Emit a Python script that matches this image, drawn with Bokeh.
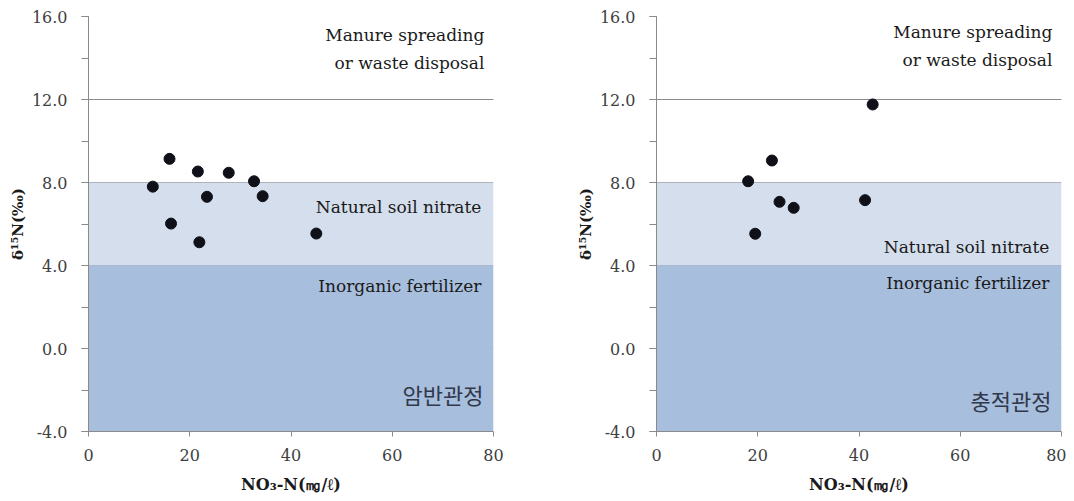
from bokeh.plotting import figure
from bokeh.layouts import row
from bokeh.models import Range1d, SingleIntervalTicker, FixedTicker, PrintfTickFormatter
from bokeh.core.properties import value
from bokeh.embed import file_html
from bokeh.resources import INLINE

# ---- data ----
rock_no3 = [12.7, 16.0, 21.6, 27.7, 32.7, 23.4, 34.4, 16.3, 21.9, 45.0]
rock_d15n = [7.8, 9.14, 8.53, 8.47, 8.06, 7.31, 7.34, 6.02, 5.12, 5.54]
allu_no3 = [42.7, 22.8, 18.1, 24.3, 27.1, 41.2, 19.5]
allu_d15n = [11.76, 9.06, 8.06, 7.07, 6.78, 7.15, 5.53]

band_bottom = [4.0, -4.0]
band_top = [8.0, 4.0]
band_colors = ["#D4DEEC", "#A7BEDD"]

x_ticks = [0, 20, 40, 60, 80]
y_grid = [0, 4, 8, 12]
panel_titles = ["암반관정", "충적관정"]

SERIF = "DejaVu Serif"


def make_panel(xs, ys, title, nat_y, inorg_y, man_y, title_y, left_border, right_border):
    p = figure(frame_width=405, frame_height=415, output_backend="svg",
               toolbar_location=None, x_range=Range1d(0, 80), y_range=Range1d(-4, 16),
               min_border_left=left_border, min_border_right=right_border,
               min_border_top=16, min_border_bottom=55)
    p.outline_line_color = None
    p.background_fill_color = "white"
    p.border_fill_color = "white"

    p.quad(left=0, right=80, bottom=band_bottom, top=band_top, fill_color=band_colors,
           line_color=None)

    p.xgrid.visible = False
    p.ygrid.ticker = FixedTicker(ticks=y_grid)
    p.ygrid.grid_line_color = "#8A8A8A"
    p.ygrid.grid_line_width = 1
    p.ygrid.level = "underlay"

    p.xaxis.ticker = FixedTicker(ticks=x_ticks)
    p.yaxis.ticker = SingleIntervalTicker(interval=4, num_minor_ticks=2)
    p.yaxis.formatter = PrintfTickFormatter(format="%.1f")
    for ax in (p.xaxis, p.yaxis):
        ax.axis_line_color = "#8A8A8A"
        ax.major_tick_line_color = "#8A8A8A"
        ax.minor_tick_line_color = "#8A8A8A"
        ax.major_tick_in = 0
        ax.minor_tick_in = 0
        ax.major_label_text_font = SERIF
        ax.major_label_text_font_size = "16px"
        ax.major_label_text_color = "#404040"
        ax.axis_label_text_font = SERIF
        ax.axis_label_text_font_style = "bold"
        ax.axis_label_text_color = "#1a1a1a"
    p.xaxis.major_tick_out = 5
    p.xaxis.minor_tick_line_color = None
    p.xaxis.major_label_standoff = 12
    p.xaxis.axis_label = "NO₃-N(㎎/ℓ)"
    p.xaxis.axis_label_text_font_size = "16px"
    p.xaxis.axis_label_standoff = 11
    p.yaxis.major_tick_out = 7
    p.yaxis.minor_tick_out = 7
    p.yaxis.major_label_standoff = 14
    p.yaxis.axis_label = "δ¹⁵N(‰)"
    p.yaxis.axis_label_text_font_size = "15px"
    p.yaxis.axis_label_standoff = 2

    p.scatter(xs, ys, size=11, fill_color="#0f1018", line_color="#0f1018")

    p.text(x=[78.2], y=[man_y], text=["Manure spreading\nor waste disposal"],
           text_align="right", text_baseline="middle", text_font=value(SERIF),
           text_font_size="17px", text_color="#1a1a1a", text_line_height=1.4)
    p.text(x=[77.6], y=[nat_y], text=["Natural soil nitrate"], text_align="right",
           text_baseline="middle", text_font=value(SERIF), text_font_size="17px",
           text_color="#1a1a1a")
    p.text(x=[77.6], y=[inorg_y], text=["Inorganic fertilizer"], text_align="right",
           text_baseline="middle", text_font=value(SERIF), text_font_size="17px",
           text_color="#1a1a1a")
    p.text(x=[78.0], y=[title_y], text=[title], text_align="right",
           text_baseline="middle", text_font=value("Noto Sans CJK KR"),
           text_font_size="22px", text_color="#30384a")
    return p


p1 = make_panel(rock_no3, rock_d15n, panel_titles[0], 6.84, 3.0, 14.41, -2.2, 88, 75)
p2 = make_panel(allu_no3, allu_d15n, panel_titles[1], 4.87, 3.18, 14.6, -2.46, 88, 5)

layout = row(p1, p2)
open("out.html", "w").write(file_html(layout, INLINE))
